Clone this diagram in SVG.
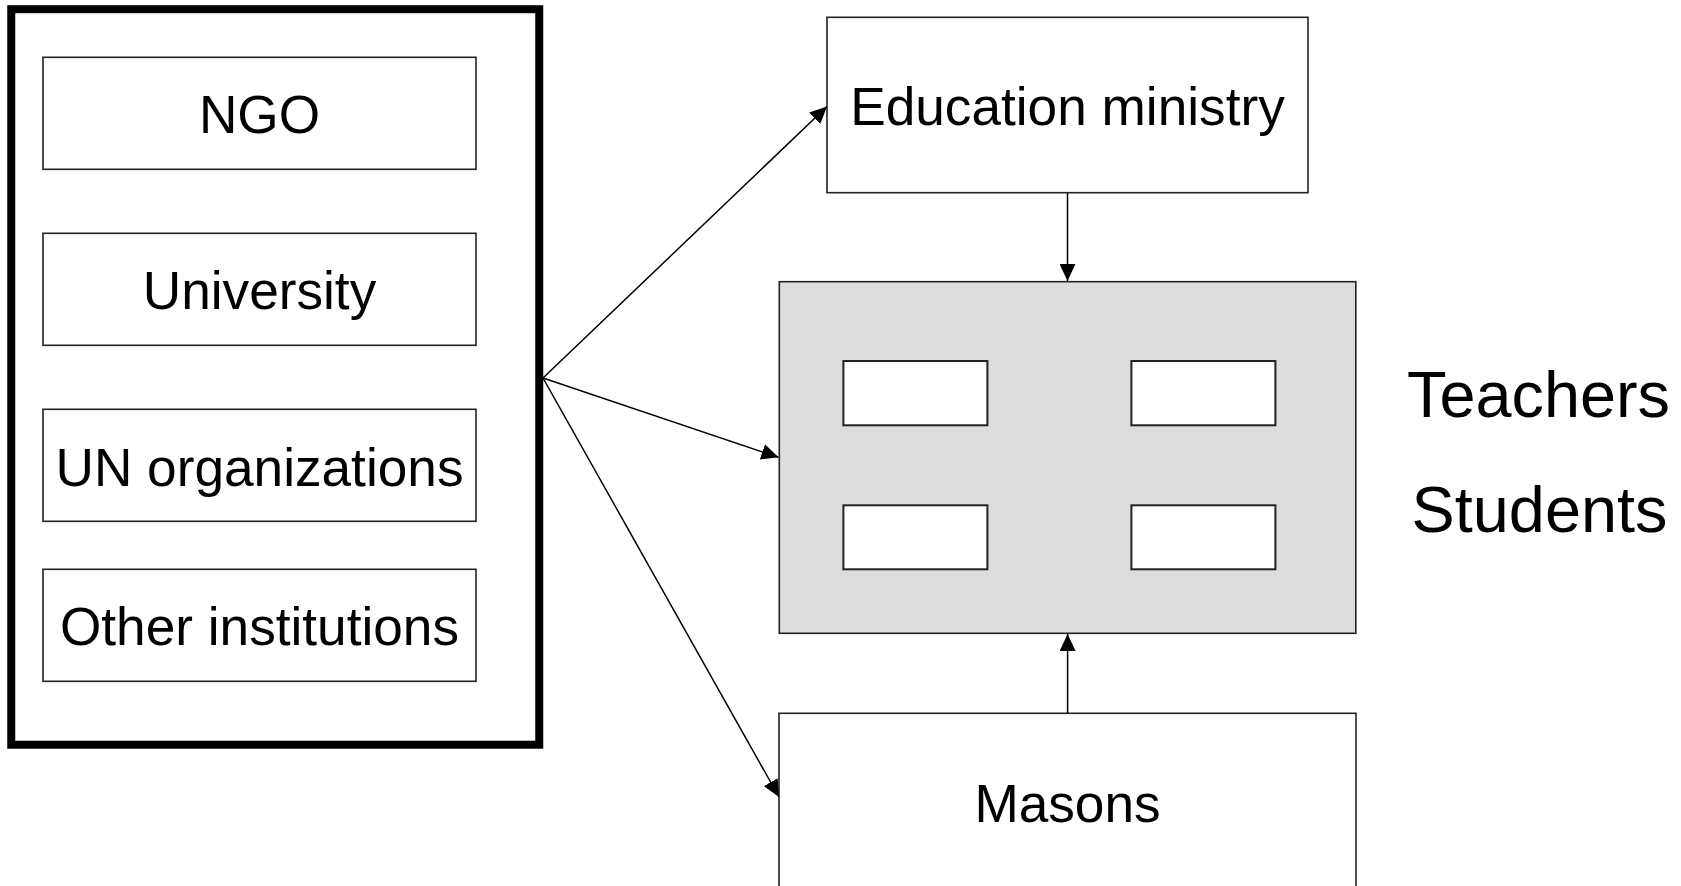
<svg xmlns="http://www.w3.org/2000/svg" width="1681" height="886" viewBox="0 0 1681 886">
<defs>
<marker id="ah" markerUnits="userSpaceOnUse" markerWidth="18" markerHeight="16" viewBox="0 0 18 16" refX="17" refY="8" orient="auto">
<path d="M0,0 L17,8 L0,16 z" fill="#000"/>
</marker>
<style>
.box{fill:#fff;stroke:#222;stroke-width:1.6}
.t{font-family:"Liberation Sans",Arial,sans-serif;font-size:53.2px;fill:#000;text-anchor:middle}
.big{font-family:"Liberation Sans",Arial,sans-serif;font-size:64.8px;fill:#000;text-anchor:middle}
.con{stroke:#000;stroke-width:1.5;fill:none;marker-end:url(#ah)}
.win{fill:#fff;stroke:#222;stroke-width:2}
</style>
</defs>
<rect width="1681" height="886" fill="#fff"/>
<g id="partners">
<rect x="11.25" y="9.2" width="528" height="735.5" fill="#fff" stroke="#000" stroke-width="8"/>
</g>
<g id="ngo"><rect class="box" x="43" y="57.3" width="433" height="112"/><text class="t" x="259.5" y="133">NGO</text></g>
<g id="university"><rect class="box" x="43" y="233.3" width="433" height="112"/><text class="t" x="259.5" y="308.5">University</text></g>
<g id="un"><rect class="box" x="43" y="409.3" width="433" height="112"/><text class="t" x="259.5" y="486">UN organizations</text></g>
<g id="other"><rect class="box" x="43" y="569.3" width="433" height="112"/><text class="t" x="259.5" y="645">Other institutions</text></g>
<g id="education"><rect class="box" x="827" y="17.3" width="481" height="175.4"/><text class="t" x="1067.5" y="125">Education ministry</text></g>
<g id="school">
<rect x="779.3" y="281.7" width="576.5" height="351.6" fill="#dddddd" stroke="#222" stroke-width="1.6"/>
<rect class="win" x="843.4" y="361" width="144" height="64.3"/>
<rect class="win" x="1131.4" y="361" width="144" height="64.3"/>
<rect class="win" x="843.4" y="505.3" width="144" height="64"/>
<rect class="win" x="1131.4" y="505.3" width="144" height="64"/>
</g>
<g id="masons"><rect class="box" x="779" y="713.3" width="577" height="200"/><text class="t" x="1067.5" y="821.7">Masons</text></g>
<g id="labels">
<text class="big" x="1538.5" y="417">Teachers</text>
<text class="big" x="1539.5" y="531.7">Students</text>
</g>
<g id="connectors">
<line class="con" x1="543" y1="378" x2="827" y2="106.5"/>
<line class="con" x1="543" y1="378" x2="778.5" y2="457.3"/>
<line class="con" x1="543" y1="378" x2="779" y2="797"/>
<line class="con" x1="1067.5" y1="192.7" x2="1067.5" y2="281"/>
<line class="con" x1="1067.6" y1="713.3" x2="1067.6" y2="634"/>
</g>
</svg>
